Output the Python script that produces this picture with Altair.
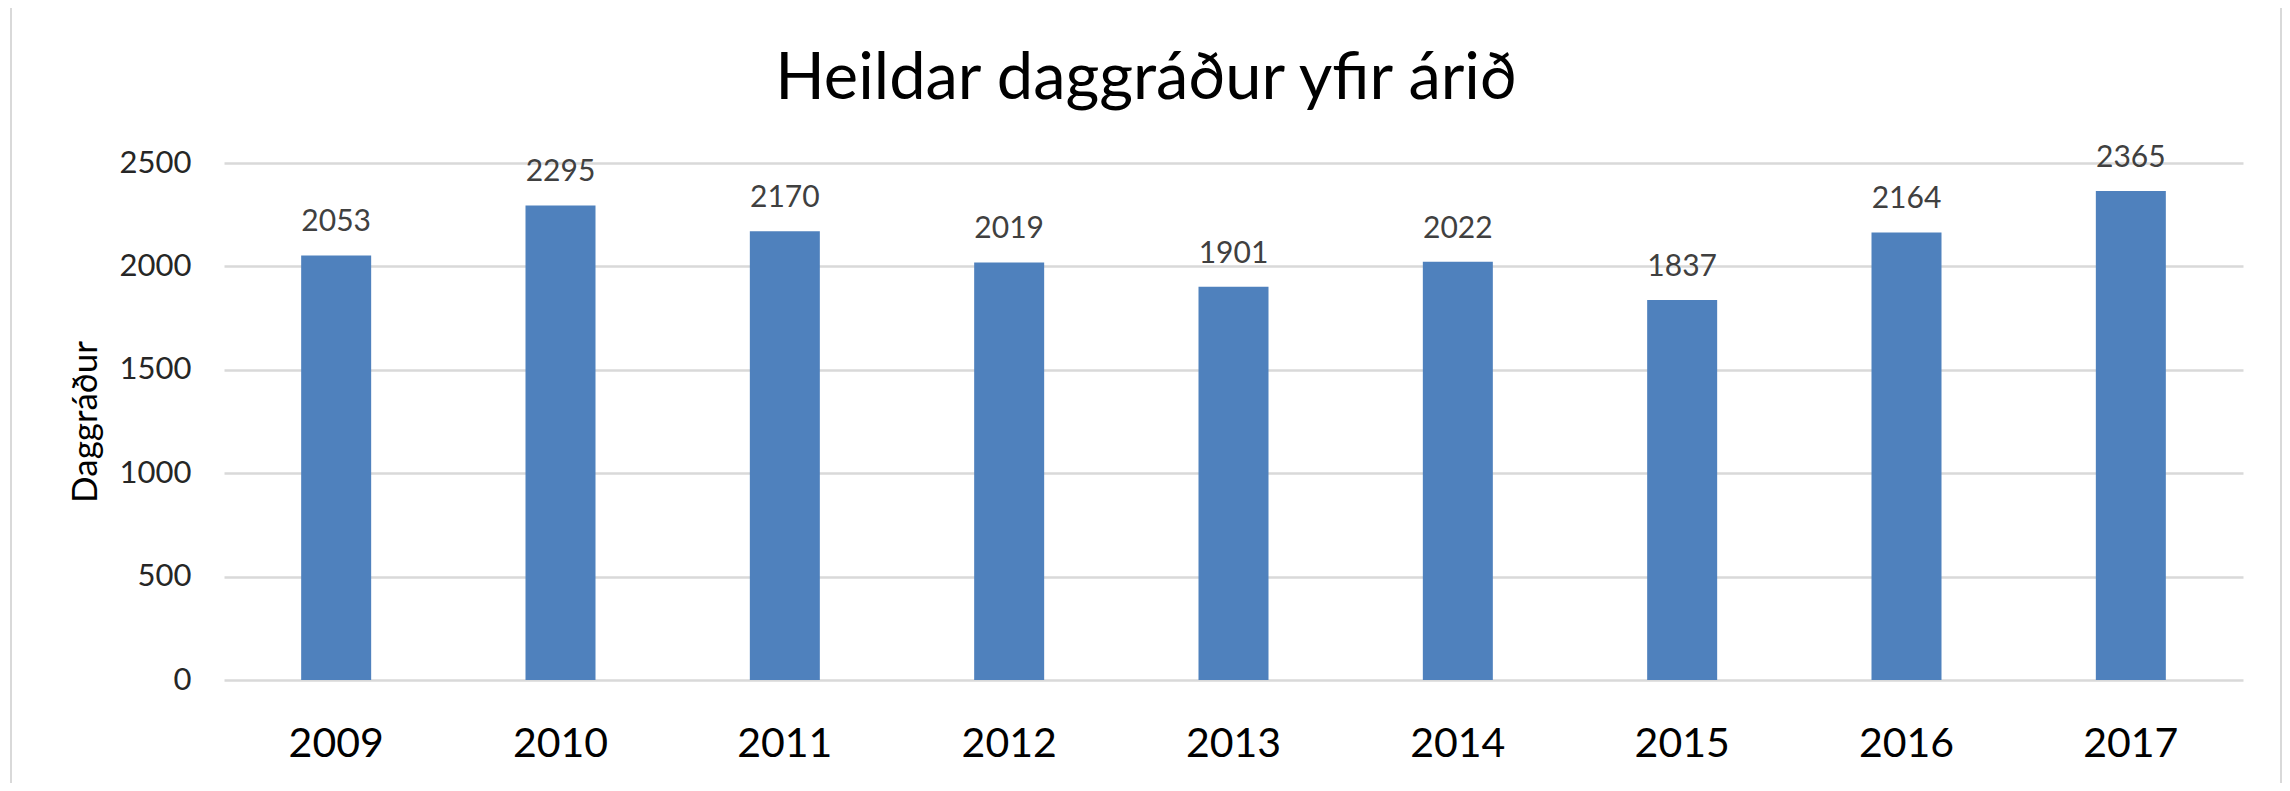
import altair as alt
import pandas as pd

years = ["2009", "2010", "2011", "2012", "2013", "2014", "2015", "2016", "2017"]
values = [2053, 2295, 2170, 2019, 1901, 2022, 1837, 2164, 2365]
y_ticks = [0, 500, 1000, 1500, 2000, 2500]

df = pd.DataFrame({"year": years, "value": values})

FONT = "Lato"

x_enc = alt.X(
    "year:O",
    title=None,
    scale=alt.Scale(paddingInner=0, paddingOuter=0),
    axis=alt.Axis(
        labelAngle=0, labelFontSize=41, labelFont=FONT, labelColor="#000000",
        ticks=False, domain=False, labelPadding=44, grid=False,
    ),
)
y_enc = alt.Y(
    "value:Q",
    title="Daggráður",
    scale=alt.Scale(domain=[0, 2500], nice=False),
    axis=alt.Axis(
        values=y_ticks, format="d", labelFontSize=31, labelFont=FONT, labelColor="#262626",
        ticks=False, domain=False, labelPadding=33,
        grid=True, gridColor="#d9d9d9", gridWidth=2.5,
        titleFont=FONT, titleFontSize=35, titleFontWeight="normal",
        titleColor="#000000", titlePadding=16,
    ),
)

base = alt.Chart(df)

frame = base.mark_rect(
    fill="transparent", stroke="#d9d9d9", strokeWidth=2, clip=False
).encode(
    x=alt.value(-213), x2=alt.value(2057), y=alt.value(-156), y2=alt.value(650)
).transform_filter(alt.datum.year == "2009")

bars = base.mark_bar(size=70, color="#4f81bd").encode(x=x_enc, y=y_enc)
labels = base.mark_text(
    dy=-24, baseline="alphabetic", fontSize=30, font=FONT, color="#404040"
).encode(x=x_enc, y=y_enc, text="value:Q")

chart = alt.layer(frame, bars, labels).properties(
    width=2019,
    height=517,
    title=alt.TitleParams(
        "Heildar daggráður yfir árið",
        fontSize=65, font=FONT, fontWeight="normal", color="#000000",
        anchor="middle", frame="bounds", baseline="alphabetic", offset=-158,
    ),
    autosize=alt.AutoSizeParams(type="none"),
    padding={"left": 216, "top": 155, "right": 39, "bottom": 103},
).configure_view(stroke=None)

chart.save("out.html", embed_options={"renderer": "svg", "actions": False})
